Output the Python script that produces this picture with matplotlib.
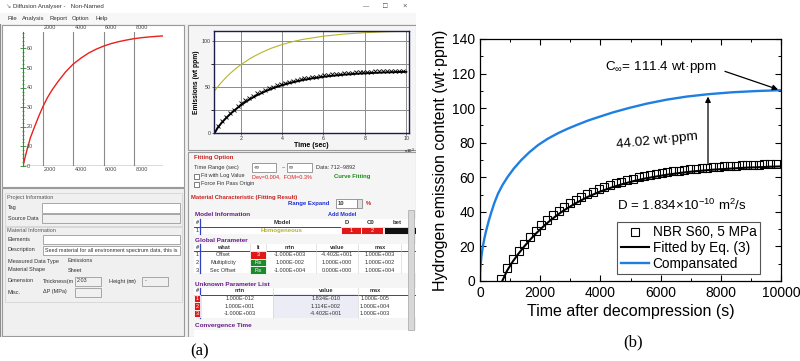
import matplotlib
matplotlib.use('Agg')
import matplotlib.pyplot as plt
from matplotlib.patches import Rectangle
from matplotlib.ticker import MultipleLocator

plt.rcParams['font.family'] = ['Liberation Sans', 'DejaVu Sans']
plt.rcParams['mathtext.fontset'] = 'custom'
plt.rcParams['mathtext.rm'] = 'Liberation Sans'
plt.rcParams['mathtext.it'] = 'Liberation Sans:italic'

# ---------------- data, panel (b) ----------------
meas_t = [712, 900, 1090, 1280, 1470, 1660, 1850, 2040, 2230, 2420, 2610, 2800, 2990,
          3180, 3370, 3560, 3750, 3940, 4130, 4320, 4510, 4700, 4890, 5080, 5270, 5460,
          5650, 5840, 6030, 6220, 6410, 6600, 6790, 6980, 7170, 7360, 7550, 7740, 7930,
          8120, 8310, 8500, 8690, 8880, 9070, 9260, 9450, 9640, 9830]
meas_c = [1.2, 7.4, 12.6, 17.2, 21.5, 25.4, 29.0, 32.3, 35.3, 38.0, 40.5, 42.8, 44.9,
          46.8, 48.6, 50.2, 51.7, 53.0, 54.3, 55.4, 56.5, 57.4, 58.3, 59.1, 59.9, 60.6,
          61.2, 61.8, 62.4, 62.9, 63.4, 63.8, 64.2, 64.6, 64.9, 65.3, 65.6, 65.8, 66.1,
          66.3, 66.5, 66.7, 66.9, 67.0, 67.2, 67.3, 67.5, 67.6, 67.7]

fit_t = [740, 900, 1090, 1280, 1470, 1660, 1850, 2040, 2230, 2420, 2610, 2800, 3180,
         3560, 3940, 4320, 4700, 5080, 5460, 5840, 6220, 6600, 6980, 7360, 7740, 8120,
         8500, 8880, 9260, 9640, 10000]
fit_c = [0.0, 6.0, 11.3, 15.85, 20.0, 23.8, 27.3, 30.5, 33.5, 36.2, 38.7, 41.0, 45.0,
         48.5, 51.4, 53.8, 55.9, 57.7, 59.2, 60.4, 61.5, 62.4, 63.2, 63.8, 64.4, 64.8,
         65.2, 65.6, 65.8, 66.1, 66.3]

comp_t = [0, 5, 15, 30, 50, 75, 100, 150, 210, 290, 376, 480, 598, 750, 930, 1130,
          1373, 1640, 1927, 2250, 2591, 2900, 3233, 3600, 4000, 4430, 4950, 5540, 6200,
          6870, 7600, 8400, 9200, 10000]
comp_c = [0, 4.6, 7.9, 11.2, 14.5, 17.7, 20.5, 25.0, 29.5, 34.8, 39.8, 45.3, 50.5,
          55.6, 60.5, 65.2, 70.0, 74.5, 78.6, 82.3, 85.5, 88.0, 90.4, 92.9, 95.2, 97.6,
          100.1, 102.6, 104.9, 106.7, 108.1, 109.2, 109.9, 110.4]

# ---------------- data, panel (a) screenshot plots ----------------
gui_red_t = [712, 800, 900, 1000, 1200, 1500, 1750, 2000, 2300, 2600, 3000, 3500, 4000,
             4500, 5000, 5500, 6000, 6500, 7000, 7500, 8000, 8500, 9000, 9500, 9892]
gui_red_c = [0, 2.8, 6.0, 9.0, 14.5, 20.6, 25.5, 30.0, 34.7, 38.6, 43.0, 48.0, 52.0,
             55.0, 57.6, 59.6, 61.2, 62.5, 63.5, 64.3, 65.0, 65.5, 65.9, 66.2, 66.4]

gui_yel_t = [0.712, 0.85, 1.0, 1.25, 1.5, 1.75, 2.0, 2.5, 3.0, 3.5, 4.0, 4.5, 5.0, 6.0,
             7.0, 8.0, 9.0, 10.13]
gui_yel_c = [44.7, 48.9, 53.0, 59.2, 64.7, 69.5, 73.9, 81.3, 87.2, 92.0, 95.8, 98.9,
             101.4, 104.9, 107.2, 108.7, 109.7, 110.4]

W, H = 800, 361


def frac(x0, y0, x1, y1):
    return [x0 / W, 1 - y1 / H, (x1 - x0) / W, (y1 - y0) / H]


fig = plt.figure(figsize=(8, 3.61), dpi=100)

# ================= panel (a): software window =================
ga = fig.add_axes(frac(0, 0, 416, 337))
ga.set_xlim(0, 416)
ga.set_ylim(337, 0)
ga.axis('off')


def box(x0, y0, x1, y1, fc, ec='#a8a8a8', lw=0.6, z=1):
    ga.add_patch(Rectangle((x0, y0), x1 - x0, y1 - y0, fc=fc, ec=ec, lw=lw, zorder=z))


def txt(x, y, s, size=4.2, color='#333333', ha='left', weight='normal', z=3, **kw):
    ga.text(x, y, s, fontsize=size, color=color, ha=ha, va='center', weight=weight,
            zorder=z, clip_on=True, **kw)


box(0, 0, 416, 337, '#f0f0f0', ec='#8c8c8c', lw=0.8)
box(0, 0, 416, 13, 'white', ec='none')
txt(5, 6.5, '\u2198', size=4.5, color='#777777')
txt(13, 6.5, 'Diffusion Analyser -   Non-Named', size=4.4)
txt(366, 6.5, '\u2014', size=4.5, ha='center')
txt(385, 6.5, '\u25a1', size=5.5, ha='center')
txt(405, 6.5, '\u00d7', size=5.5, ha='center', color='#555555')
box(0, 13, 416, 24, '#f7f7f7', ec='none')
for mx, mname in zip([7, 22, 49, 72, 96], ['File', 'Analysis', 'Report', 'Option', 'Help']):
    txt(mx, 18.5, mname, size=4.3)

# left plot panel
box(2, 25, 184, 187, 'white', ec='#9a9a9a', lw=0.8)
la = fig.add_axes(frac(23, 32, 163, 166))
la.set_xlim(712, 9892)
la.set_ylim(0, 68.4)
la.patch.set_alpha(0)
for s in ['top', 'right', 'bottom']:
    la.spines[s].set_visible(False)
la.spines['left'].set_color('#2e8b2e')
la.spines['left'].set_linewidth(0.8)
la.set_xticks([])
la.yaxis.set_major_locator(MultipleLocator(10))
la.yaxis.set_minor_locator(MultipleLocator(2))
la.tick_params(axis='y', which='major', direction='inout', length=4, width=0.6,
               color='#2e8b2e', labelleft=False)
la.tick_params(axis='y', which='minor', direction='inout', length=2, width=0.5, color='#2e8b2e')
for gx in [2000, 4000, 6000, 8000]:
    la.axvline(gx, color='#8a8a8a', lw=0.8)
    la.text(gx + 100, 70.5, str(gx), fontsize=3.9, color='#444444', va='center', clip_on=False)
    la.text(gx + 100, -1.8, str(gx), fontsize=3.9, color='#444444', va='center', clip_on=False)
for gy in range(0, 70, 10):
    la.text(960, gy, str(gy), fontsize=3.9, color='#444444', va='center', clip_on=False)
la.axhline(0, color='#3040d0', lw=1.0)
la.plot(gui_red_t, gui_red_c, color='#e8201e', lw=1.0)

# left lower panel
box(2, 188, 184, 336, '#f0f0f0', ec='#9a9a9a', lw=0.8)
box(5, 193, 182, 226, 'none', ec='#d4d4d4')
box(5, 227, 182, 302, 'none', ec='#d4d4d4')
txt(7, 198, 'Project Information', size=4.0, color='#555555')
txt(8, 208, 'Tag', size=4.0)
box(42, 203, 180, 213, 'white', ec='#9a9a9a', z=2)
txt(8, 218.5, 'Source Data', size=4.0)
box(42, 214, 180, 223, '#f0f0f0', ec='#9a9a9a', z=2)
txt(7, 230, 'Material Information', size=4.0, color='#555555')
txt(8, 239.5, 'Elements', size=4.0)
box(43, 235, 180, 244, 'white', ec='#9a9a9a', z=2)
txt(8, 249.5, 'Description', size=4.0)
box(43, 246, 180, 255, 'white', ec='#9a9a9a', z=2)
txt(45, 250.5, 'Seed material for all environment spectrum data, this is', size=3.9)
txt(8, 261, 'Measured Data Type', size=4.0)
txt(68, 261, 'Emissions', size=4.0)
txt(8, 270, 'Material Shape', size=4.0)
txt(68, 270, 'Sheet', size=4.0)
txt(8, 281, 'Dimension', size=4.0)
txt(43, 281, 'Thickness(m', size=4.0)
box(75, 277, 101, 286, '#f0f0f0', ec='#9a9a9a', z=2)
txt(77, 280.5, '2.03', size=3.9)
txt(109, 281, 'Height (\u339c)', size=4.0, family=['Liberation Sans', 'Noto Sans CJK JP'])
box(142, 277, 168, 286, '#f0f0f0', ec='#9a9a9a', z=2)
txt(145, 280.5, '-', size=3.9)
txt(8, 292, 'Misc.', size=4.0)
txt(43, 292, '\u0394P (MPa)', size=4.0)
box(75, 288, 101, 297, '#f0f0f0', ec='#9a9a9a', z=2)

# right plot panel
box(188, 25, 416, 150, '#f5f5f5', ec='#9a9a9a', lw=0.8)
ra = fig.add_axes(frac(214, 31, 409, 133))
ra.set_xlim(0.712, 10.13)
ra.set_ylim(0, 110.5)
for s in ra.spines.values():
    s.set_color('#1c1c50')
    s.set_linewidth(1.0)
ra.set_xticks([2, 4, 6, 8, 10])
ra.set_yticks([0, 50, 100])
ra.set_yticks([25, 75], minor=True)
ra.grid(True, which='both', color='#8c8c8c', lw=0.7)
ra.tick_params(labelsize=3.8, length=1.5, width=0.5, pad=1, colors='#333333')
ra.set_xlabel('Time (sec)', fontsize=5.0, weight='bold', labelpad=0.5)
ra.set_ylabel('Emissions (wt ppm)', fontsize=4.8, weight='bold', labelpad=1)
ra.text(1.0, -0.13, 'x10$^3$', transform=ra.transAxes, fontsize=3.2, ha='center', va='top')
ra.plot(gui_yel_t, gui_yel_c, color='#b8b428', lw=0.8)
ra.plot([t / 1000 for t in fit_t], fit_c, color='black', lw=1.4)
ra.plot([t / 1000 for t in meas_t], meas_c, ls='none', marker='x', color='black', ms=2.8, mew=0.6)

# right lower panel: fitting option / results
box(188, 152, 416, 337, '#f5f5f5', ec='#9a9a9a', lw=0.8)
txt(194, 158, 'Fitting Option', size=4.3, color='#c8201e', weight='bold')
txt(194, 167.5, 'Time Range (sec)', size=4.1)
box(252, 163, 276, 172, 'white', ec='#8a8a8a', z=2)
txt(254, 167.5, '-\u221e', size=4.0)
txt(282, 167.5, '~', size=4.1)
box(287, 163, 312, 172, 'white', ec='#8a8a8a', z=2)
txt(289, 167.5, '\u221e', size=4.0)
txt(316, 167.5, 'Data: 712~9892', size=4.0)
box(194, 173.5, 199, 178.5, 'white', ec='#666666', z=2)
txt(201, 176, 'Fit with Log Value', size=4.0)
txt(252, 176.5, 'Dev=0.004,  FOM=0.3%', size=4.0, color='#d82020')
txt(334, 176.5, 'Curve Fitting', size=4.2, color='#1a8a1a', weight='bold')
box(194, 181.5, 199, 186.5, 'white', ec='#666666', z=2)
txt(201, 184, 'Force Fin Pass Origin', size=4.0)
txt(191, 197, 'Material Characteristic (Fitting Result)', size=4.2, color='#c8201e', weight='bold')
txt(288, 203.5, 'Range Expand', size=4.3, color='#2030d0', weight='bold')
box(336, 199, 357, 208, 'white', ec='#8a8a8a', z=2)
txt(338, 203.5, '10', size=4.2, weight='bold')
box(357, 199, 362, 208, '#e0e0e0', ec='#8a8a8a', z=2)
txt(366, 203.5, '%', size=4.2, color='#c8201e', weight='bold')

txt(195, 215, 'Model Information', size=4.6, color='#6a1a8a', weight='bold')
txt(328, 214, 'Add Model', size=4.0, color='#2030d0', weight='bold')
box(194, 219, 416, 234, 'white', ec='none', z=2)
ga.plot([200, 200], [219, 234], color='#3040c0', lw=0.9, zorder=3)
ga.plot([194, 416], [226.5, 226.5], color='#3040c0', lw=0.7, zorder=3)
txt(196, 222.5, '#', size=4.0, weight='bold')
txt(282, 222.5, 'Model', size=4.3, ha='center', weight='bold')
txt(347, 222.5, 'D', size=4.3, ha='center', weight='bold')
txt(371, 222.5, 'C0', size=4.3, ha='center', weight='bold')
txt(393, 222.5, 'bet', size=4.3, weight='bold')
txt(196, 230.5, '1', size=4.0)
txt(282, 230.5, 'Homogeneous', size=4.3, ha='center', color='#b8b030', weight='bold')
box(341, 227, 361, 234, '#e01818', ec='white', z=3)
box(361, 227, 383, 234, '#e01818', ec='white', z=3)
box(384, 227, 416, 234, '#111111', ec='white', z=3)
txt(351, 230.5, '1', size=4.0, ha='center', color='white', z=4)
txt(372, 230.5, '2', size=4.0, ha='center', color='white', z=4)

txt(195, 240, 'Global Parameter', size=4.6, color='#6a1a8a', weight='bold')
box(194, 244, 416, 273, 'white', ec='none', z=2)
ga.plot([200, 200], [244, 273], color='#3040c0', lw=0.9, zorder=3)
ga.plot([194, 416], [251, 251], color='#3040c0', lw=0.7, zorder=3)
for cx in [250, 266, 316, 358, 401]:
    ga.plot([cx, cx], [244, 273], color='#d0d0d0', lw=0.4, zorder=3)
gp_head = [(196, '#', 'left'), (223, 'what', 'center'), (258, 'It', 'center'),
           (290, 'min', 'center'), (337, 'value', 'center'), (380, 'max', 'center')]
for hx, hs, hha in gp_head:
    txt(hx, 247.5, hs, size=4.1, ha=hha, weight='bold')
gp_rows = [('1', 'Offset', '3', '-1.000E+003', '-4.402E+001', '1.000E+003', '#e01818'),
           ('2', 'Multiplicity', 'Fix', '1.000E-002', '1.000E+000', '1.000E+002', '#1a8a2a'),
           ('3', 'Sec Offset', 'Fix', '-1.000E+004', '0.000E+000', '1.000E+004', '#1a8a2a')]
for i, (n, wh, it, mn, vl, mx, cc) in enumerate(gp_rows):
    yy = 255 + 7.5 * i
    box(250, yy - 3.6, 266, yy + 3.6, cc, ec='white', z=3)
    txt(196, yy, n, size=4.0)
    txt(223, yy, wh, size=4.0, ha='center')
    txt(258, yy, it, size=4.0, ha='center', color='white', z=4)
    txt(290, yy, mn, size=4.0, ha='center')
    txt(337, yy, vl, size=4.0, ha='center')
    txt(380, yy, mx, size=4.0, ha='center')

txt(195, 284, 'Unknown Parameter List', size=4.6, color='#6a1a8a', weight='bold')
box(194, 288, 416, 318, 'white', ec='none', z=2)
box(273, 294, 358, 318, '#ececf6', ec='none', z=2)
ga.plot([200, 200], [288, 318], color='#3040c0', lw=0.9, zorder=3)
ga.plot([194, 416], [294.5, 294.5], color='#3040c0', lw=0.7, zorder=3)
for cx in [273, 358]:
    ga.plot([cx, cx], [288, 318], color='#d0d0d0', lw=0.4, zorder=3)
txt(196, 291, '#', size=4.1, weight='bold')
txt(240, 291, 'min', size=4.1, ha='center', weight='bold')
txt(326, 291, 'value', size=4.1, ha='center', weight='bold')
txt(375, 291, 'max', size=4.1, ha='center', weight='bold')
up_rows = [('1', '1.000E-012', '1.834E-010', '1.000E-005'),
           ('2', '1.000E+001', '1.114E+002', '1.000E+004'),
           ('3', '-1.000E+003', '-4.402E+001', '1.000E+003')]
for i, (n, mn, vl, mx) in enumerate(up_rows):
    yy = 298.5 + 7.5 * i
    box(194, yy - 3.6, 200, yy + 3.6, '#e01818', ec='white', z=3)
    txt(197, yy, n, size=4.0, ha='center', color='white', z=4)
    txt(240, yy, mn, size=4.0, ha='center')
    txt(326, yy, vl, size=4.0, ha='center')
    txt(375, yy, mx, size=4.0, ha='center')

txt(195, 325, 'Convergence Time', size=4.6, color='#6a1a8a', weight='bold')
box(194, 330, 416, 337, 'white', ec='none', z=2)
box(408, 210, 414, 330, '#d8d8d8', ec='#b0b0b0', z=4)

fig.text(200 / W, 1 - 351 / H, '(a)', fontsize=12, family='Liberation Serif',
         ha='center', va='center')

# ================= panel (b) =================
ax = fig.add_axes(frac(480, 39, 781, 281))
ax.plot(meas_t, meas_c, ls='none', marker='s', mfc='none', mec='black', ms=5.5, mew=0.8,
        label='NBR S60, 5 MPa')
ax.plot(fit_t, fit_c, color='black', lw=1.5, label='Fitted by Eq. (3)')
ax.plot(comp_t, comp_c, color='#1f7fe0', lw=1.7, label='Compansated')
ax.set_xlim(0, 10000)
ax.set_ylim(0, 140)
ax.xaxis.set_major_locator(MultipleLocator(2000))
ax.xaxis.set_minor_locator(MultipleLocator(1000))
ax.yaxis.set_major_locator(MultipleLocator(20))
ax.yaxis.set_minor_locator(MultipleLocator(10))
ax.tick_params(which='both', direction='in', top=True, right=True, labelsize=10)
ax.tick_params(which='major', length=4, width=0.8)
ax.tick_params(which='minor', length=2, width=0.7)
for s in ax.spines.values():
    s.set_linewidth(0.9)
ax.set_xlabel('Time after decompression (s)', fontsize=11.5, labelpad=3)
ax.set_ylabel('Hydrogen emission content (wt\u00b7ppm)', fontsize=11.5, labelpad=3)

ax.annotate('', xy=(9990, 110.3), xytext=(8050, 121.8),
            arrowprops=dict(arrowstyle='-|>', color='black', lw=0.9, mutation_scale=8))
ax.text(6000, 123.8, 'C$_{\\infty}$= 111.4 wt\u00b7ppm', fontsize=9.7, ha='center', va='center')
ax.annotate('', xy=(7575, 108.3), xytext=(7575, 65.8),
            arrowprops=dict(arrowstyle='-|>', color='black', lw=0.9, mutation_scale=8))
ax.text(5880, 81, '44.02 wt\u00b7ppm', fontsize=9.7, ha='center', va='center', rotation=6)
ax.text(6710, 44, 'D = 1.834$\\times$10$^{-10}$ m$^2$/s', fontsize=9.6, ha='center', va='center')

leg = ax.legend(loc='lower right', bbox_to_anchor=(0.93, 0.029), fontsize=9.8,
                frameon=True, fancybox=False, edgecolor='#555555', framealpha=1,
                borderpad=0.25, labelspacing=0.12, handlelength=2.1, handletextpad=0.25,
                borderaxespad=0)
leg.get_frame().set_linewidth(0.8)

fig.text(633 / W, 1 - 342 / H, '(b)', fontsize=12, family='Liberation Serif',
         ha='center', va='center')

fig.savefig('out.png', dpi=100)
